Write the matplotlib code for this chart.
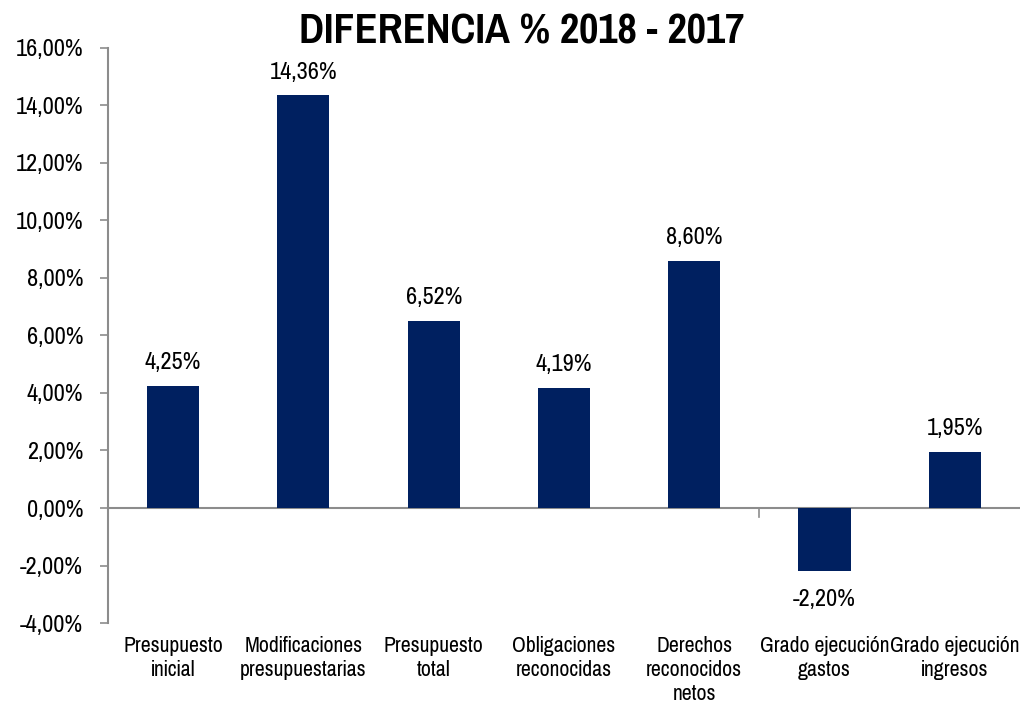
import numpy as np
import matplotlib
matplotlib.use('Agg')
import matplotlib.pyplot as plt
from matplotlib.ticker import FuncFormatter

plt.rcParams['font.family'] = ['Pragati Narrow', 'Archivo Narrow', 'Liberation Sans', 'DejaVu Sans']

categorias = ['Presupuesto\ninicial', 'Modificaciones\npresupuestarias', 'Presupuesto\ntotal',
              'Obligaciones\nreconocidas', 'Derechos\nreconocidos\nnetos',
              'Grado ejecución\ngastos', 'Grado ejecución\ningresos']
diferencia = [4.25, 14.36, 6.52, 4.19, 8.60, -2.20, 1.95]
etiquetas = ['4,25%', '14,36%', '6,52%', '4,19%', '8,60%', '-2,20%', '1,95%']

azul = '#002060'
gris = '#8c8c8c'

fig = plt.figure(figsize=(10.23, 7.04), dpi=100)
ax = fig.add_axes([0.1056, 0.115, 0.8914, 0.817])

x = np.arange(len(categorias))
bars = ax.bar(x, diferencia, width=0.4, color=azul, zorder=3)

for i in range(len(x)):
	v = diferencia[i]
	if v >= 0:
		ax.annotate(etiquetas[i], (x[i], v), xytext=(0, 9), textcoords='offset points',
			ha='center', va='bottom', fontsize=19)
	else:
		ax.annotate(etiquetas[i], (x[i], v), xytext=(0, -13), textcoords='offset points',
			ha='center', va='top', fontsize=19)

ax.set_xlim(-0.5, len(categorias) - 0.5)
ax.set_ylim(-4, 16)
ax.set_yticks(np.arange(-4, 17, 2))
ax.yaxis.set_major_formatter(FuncFormatter(lambda v, p: ('%.2f%%' % v).replace('.', ',')))
ax.tick_params(axis='y', labelsize=19, length=6, width=1.2, color=gris, pad=12)

ax.set_xticks(x)
ax.set_xticklabels(categorias, fontsize=17, linespacing=1.25)
ax.tick_params(axis='x', length=0, pad=9)

for s in ['top', 'right', 'bottom']:
	ax.spines[s].set_visible(False)
ax.spines['left'].set_color(gris)
ax.spines['left'].set_linewidth(1.5)
ax.axhline(0, color=gris, linewidth=1.5, zorder=2)
# pequeña marca suelta en el eje
ax.plot([4.5, 4.5], [0, -0.3], color=gris, linewidth=1.2, zorder=2)

fig.text(0.51, 0.955, 'DIFERENCIA % 2018 - 2017', ha='center', va='center',
	fontsize=33, fontweight='bold')

fig.savefig('out.png', dpi=100)
